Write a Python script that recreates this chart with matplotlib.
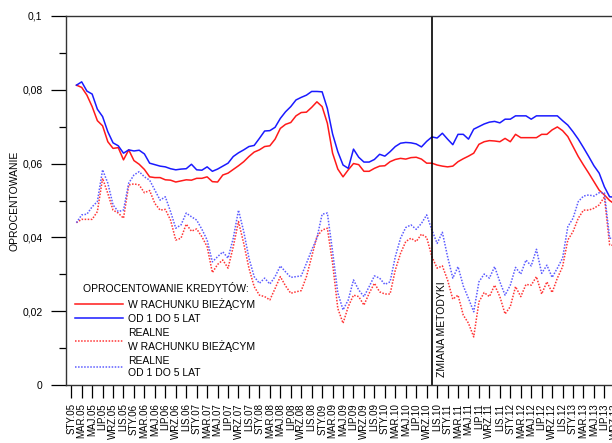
import matplotlib
matplotlib.use("Agg")
import matplotlib.pyplot as plt
import numpy as np

plt.rcParams['font.family'] = ['Liberation Sans', 'DejaVu Sans']

# monthly values, first point = start of 2005
w_rachunku = [0.0812, 0.0806, 0.0785, 0.0754, 0.0716, 0.0702, 0.0659, 0.0641, 0.0643, 0.0610,
              0.0637, 0.0608, 0.0598, 0.0584, 0.0564, 0.0562, 0.0562, 0.0556, 0.0555, 0.0550,
              0.0553, 0.0556, 0.0555, 0.0560, 0.0560, 0.0564, 0.0551, 0.0550, 0.0569, 0.0574,
              0.0584, 0.0594, 0.0605, 0.0619, 0.0631, 0.0637, 0.0646, 0.0648, 0.0666, 0.0695,
              0.0706, 0.0711, 0.0729, 0.0738, 0.0739, 0.0752, 0.0767, 0.0754, 0.0709, 0.0628,
              0.0585, 0.0564, 0.0583, 0.0600, 0.0597, 0.0579, 0.0579, 0.0587, 0.0593, 0.0594,
              0.0605, 0.0611, 0.0614, 0.0612, 0.0616, 0.0617, 0.0612, 0.0601, 0.0601, 0.0596,
              0.0593, 0.0591, 0.0593, 0.0605, 0.0613, 0.0620, 0.0628, 0.0652, 0.0659, 0.0662,
              0.0661, 0.0659, 0.0668, 0.0659, 0.0679, 0.0670, 0.0670, 0.0670, 0.0670, 0.0679,
              0.0679, 0.0691, 0.0699, 0.0689, 0.0673, 0.0646, 0.0619, 0.0596, 0.0574, 0.0551,
              0.0528, 0.0515, 0.0500, 0.0490]

od_1_do_5 = [0.0812, 0.0821, 0.0796, 0.0788, 0.0747, 0.0727, 0.0686, 0.0656, 0.0648, 0.0628,
             0.0637, 0.0634, 0.0636, 0.0626, 0.0601, 0.0597, 0.0593, 0.0591, 0.0586, 0.0583,
             0.0585, 0.0586, 0.0598, 0.0583, 0.0582, 0.0591, 0.0579, 0.0585, 0.0593, 0.0601,
             0.0619, 0.0629, 0.0637, 0.0646, 0.0649, 0.0668, 0.0688, 0.0689, 0.0698, 0.0722,
             0.0740, 0.0754, 0.0772, 0.0779, 0.0785, 0.0795, 0.0795, 0.0794, 0.0749, 0.0680,
             0.0632, 0.0596, 0.0587, 0.0639, 0.0617, 0.0604, 0.0604, 0.0611, 0.0625, 0.0620,
             0.0632, 0.0646, 0.0655, 0.0657, 0.0656, 0.0653, 0.0645, 0.0660, 0.0672, 0.0669,
             0.0682, 0.0666, 0.0651, 0.0679, 0.0679, 0.0666, 0.0693, 0.0700, 0.0707, 0.0712,
             0.0714, 0.0710, 0.0720, 0.0720, 0.0729, 0.0729, 0.0729, 0.0720, 0.0729, 0.0729,
             0.0729, 0.0729, 0.0729, 0.0716, 0.0704, 0.0686, 0.0666, 0.0643, 0.0619, 0.0594,
             0.0574, 0.0537, 0.0510, 0.0509]

realne_rachunek = [0.0440, 0.0449, 0.0449, 0.0449, 0.0470, 0.0560, 0.0519, 0.0474, 0.0466, 0.0452,
                   0.0542, 0.0545, 0.0542, 0.0521, 0.0527, 0.0492, 0.0474, 0.0476, 0.0447, 0.0393,
                   0.0398, 0.0436, 0.0417, 0.0423, 0.0402, 0.0375, 0.0305, 0.0327, 0.0339, 0.0317,
                   0.0375, 0.0443, 0.0384, 0.0317, 0.0267, 0.0244, 0.0240, 0.0231, 0.0262, 0.0294,
                   0.0269, 0.0249, 0.0253, 0.0256, 0.0294, 0.0348, 0.0402, 0.0420, 0.0425, 0.0330,
                   0.0208, 0.0168, 0.0213, 0.0244, 0.0240, 0.0217, 0.0249, 0.0276, 0.0253, 0.0247,
                   0.0247, 0.0312, 0.0357, 0.0389, 0.0398, 0.0389, 0.0409, 0.0400, 0.0348, 0.0317,
                   0.0323, 0.0285, 0.0233, 0.0244, 0.0190, 0.0168, 0.0131, 0.0226, 0.0251, 0.0240,
                   0.0271, 0.0240, 0.0193, 0.0213, 0.0267, 0.0240, 0.0273, 0.0271, 0.0294, 0.0247,
                   0.0280, 0.0251, 0.0290, 0.0321, 0.0393, 0.0416, 0.0452, 0.0474, 0.0474, 0.0479,
                   0.0488, 0.0510, 0.0380, 0.0378]

realne_1_5 = [0.0440, 0.0461, 0.0463, 0.0483, 0.0497, 0.0583, 0.0547, 0.0488, 0.0470, 0.0474,
              0.0547, 0.0569, 0.0578, 0.0564, 0.0555, 0.0528, 0.0501, 0.0510, 0.0470, 0.0425,
              0.0434, 0.0466, 0.0456, 0.0447, 0.0422, 0.0393, 0.0334, 0.0348, 0.0361, 0.0344,
              0.0398, 0.0474, 0.0416, 0.0344, 0.0294, 0.0276, 0.0290, 0.0274, 0.0294, 0.0323,
              0.0307, 0.0292, 0.0294, 0.0296, 0.0330, 0.0366, 0.0398, 0.0463, 0.0466, 0.0362,
              0.0250, 0.0204, 0.0231, 0.0285, 0.0258, 0.0240, 0.0267, 0.0296, 0.0290, 0.0273,
              0.0280, 0.0348, 0.0398, 0.0427, 0.0434, 0.0422, 0.0438, 0.0461, 0.0420, 0.0384,
              0.0414, 0.0348, 0.0290, 0.0321, 0.0269, 0.0235, 0.0199, 0.0280, 0.0301, 0.0290,
              0.0321, 0.0280, 0.0244, 0.0271, 0.0319, 0.0301, 0.0339, 0.0323, 0.0368, 0.0303,
              0.0325, 0.0292, 0.0317, 0.0344, 0.0429, 0.0452, 0.0497, 0.0512, 0.0515, 0.0512,
              0.0521, 0.0521, 0.0398, 0.0398]

miesiace = ["STY", "MAR", "MAJ", "LIP", "WRZ", "LIS"]
lata = ["05", "06", "07", "08", "09", "10", "11", "12", "13"]
zmiana_metodyki = 68  # month index of the methodology change

x = np.arange(len(w_rachunku))
tick_labels = [f"{m}.{r}" for r in lata for m in miesiace]
tick_pos = np.arange(len(tick_labels)) * 2 - 1

fig = plt.figure(figsize=(6.12, 4.43), dpi=100)
ax = fig.add_axes([66 / 612, 0.1302, 0.9566, 0.8344])

ax.plot(x, w_rachunku, color="#ff1a1a", lw=1.1, label="W RACHUNKU BIEŻĄCYM")
ax.plot(x, od_1_do_5, color="#1a1aff", lw=1.1, label="OD 1 DO 5 LAT")
ax.plot(x, realne_rachunek, color="#ff3535", lw=1.1, ls=(0, (1, 1)),
        label="REALNE\nW RACHUNKU BIEŻĄCYM")
ax.plot(x, realne_1_5, color="#5c5cff", lw=1.1, ls=(0, (1, 1)),
        label="REALNE\nOD 1 DO 5 LAT")

ax.axvline(zmiana_metodyki, color="black", lw=1.2)
ax.text(zmiana_metodyki + 1.0, 0.0022, "ZMIANA METODYKI", rotation=90,
        ha="left", va="bottom", fontsize=7.5)

ax.set_xlim(-2, 110)
ax.set_ylim(0, 0.1)

ax.set_xticks(tick_pos)
ax.set_xticklabels(tick_labels, rotation=90, fontsize=7)
ax.tick_params(axis="x", direction="out", length=9, width=0.9, pad=4)

ax.set_yticks([0, 0.02, 0.04, 0.06, 0.08, 0.1])
ax.set_yticklabels(["0", "0,02", "0,04", "0,06", "0,08", "0,1"], fontsize=7.5)
ax.set_yticks([0.01, 0.03, 0.05, 0.07, 0.09], minor=True)
ax.tick_params(axis="y", which="major", direction="out", length=11, width=0.9, pad=6)
ax.tick_params(axis="y", which="minor", direction="out", length=5, width=0.9)
ax.set_ylabel("OPROCENTOWANIE", fontsize=7.5, labelpad=2)

for s in ["left", "bottom", "top"]:
    ax.spines[s].set_linewidth(1.0)
    ax.spines[s].set_color("#333333")
ax.spines["right"].set_visible(False)

leg = ax.legend(loc="lower left", bbox_to_anchor=(0.016, 0.02), frameon=False,
                title="OPROCENTOWANIE KREDYTÓW:", fontsize=7.5, title_fontsize=7.5,
                handlelength=4.6, handletextpad=0.5, labelspacing=0.4,
                borderpad=0, borderaxespad=0)

fig.savefig("out.png", dpi=100)
